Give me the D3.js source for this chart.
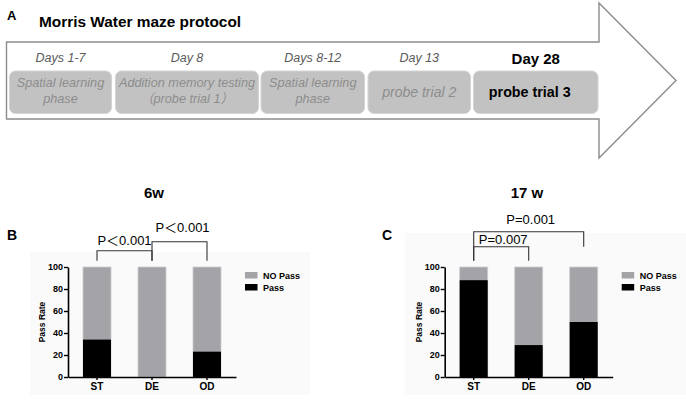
<!DOCTYPE html>
<html>
<head>
<meta charset="utf-8">
<script src="https://cdn.jsdelivr.net/npm/d3@7/dist/d3.min.js"></script>
<style>
  body { margin: 0; background: #fff; }
  svg { display: block; font-family: "Liberation Sans", Arial, sans-serif; }
</style>
</head>
<body>
<div id="main"></div>
<script>
// ---- data ----
const groups = ["ST", "DE", "OD"];
const pass6w = [34, 0, 23];
const pass17w = [88, 29, 50];
const yTicks = [0, 20, 40, 60, 80, 100];
const seriesNames = ["NO Pass", "Pass"];
const panelTitles = ["6w", "17 w"];
const panelLetters = ["B", "C"];
const brackets6w = [["ST", "DE", "P\uFF1C0.001"], ["DE", "OD", "P\uFF1C0.001"]];
const brackets17w = [["ST", "DE", "P=0.007"], ["ST", "OD", "P=0.001"]];
const phaseDays = ["Days 1-7", "Day 8", "Days 8-12", "Day 13", "Day 28"];
const phaseText = [
    ["Spatial learning", "phase"],
    ["Addition memory testing", "\uFF08probe trial 1\uFF09"],
    ["Spatial learning", "phase"],
    ["probe trial 2"],
    ["probe trial 3"]
];

const ctx = { w: 686, h: 404 };
const colGray = "#a3a3a8", colBlack = "#000";

const svg = d3.select("#main").append("svg")
    .attr("width", ctx.w).attr("height", ctx.h);

// ---- panel A : protocol arrow ----
function drawProtocol() {
    const g = svg.append("g");
    const body = { x0: 6.5, x1: 599, y0: 42, y1: 119 }, head = { top: 3, bottom: 158, tip: 676 };
    const pts = [[body.x0, body.y0], [body.x1, body.y0], [body.x1, head.top],
        [head.tip, (head.top + head.bottom) / 2], [body.x1, head.bottom],
        [body.x1, body.y1], [body.x0, body.y1]];
    g.append("path")
        .attr("d", d3.line()(pts) + "Z")
        .attr("fill", "#fff").attr("stroke", "#8c8c8c").attr("stroke-width", 1.4);

    g.append("text").attr("x", 7).attr("y", 20)
        .style("font-weight", "bold").style("font-size", "13px").text("A");
    g.append("text").attr("x", 39).attr("y", 27)
        .style("font-weight", "bold").style("font-size", "15.4px").text("Morris Water maze protocol");

    // box extents along the arrow
    const boxX = [[9.5, 111.5], [115.5, 258.5], [261, 364.5], [368, 470.5], [473.5, 598]];
    phaseDays.forEach((day, i) => {
        const last = i === phaseDays.length - 1;
        const [a, b] = boxX[i];
        const cx = (a + b) / 2;
        g.append("rect")
            .attr("x", a).attr("y", 71).attr("width", b - a).attr("height", 42.5)
            .attr("rx", 6).attr("fill", "#c2c2c2").attr("stroke", "#d4d4d4").attr("stroke-width", 1);
        g.append("text").attr("x", cx).attr("y", last ? 64 : 62)
            .attr("text-anchor", "middle")
            .style("font-size", last ? "15px" : "12.5px")
            .style("font-weight", last ? "bold" : "normal")
            .style("font-style", last ? "normal" : "italic")
            .attr("fill", last ? "#000" : "#5a5a5a")
            .text(day);
        const lines = phaseText[i];
        lines.forEach((t, j) => {
            const y = lines.length === 1 ? 96.5 : 87 + j * 16;
            g.append("text").attr("x", cx + (last ? -6 : 0)).attr("y", y)
                .attr("text-anchor", "middle")
                .style("font-family", "'Liberation Sans', 'Noto Sans CJK SC', sans-serif")
                .style("font-size", last ? "14.3px" : (lines.length === 1 ? "14px" : "12.7px"))
                .style("font-weight", last ? "bold" : "normal")
                .style("font-style", last ? "normal" : "italic")
                .attr("fill", last ? "#000" : "#8d8d8d")
                .text(t);
        });
    });
}

// ---- panels B and C : stacked bars ----
function drawPanel(opt) {
    const g = svg.append("g");
    const x0 = opt.axisX;

    g.append("rect").attr("x", opt.bg[0]).attr("y", opt.bg[1])
        .attr("width", opt.bg[2]).attr("height", opt.bg[3]).attr("fill", "#fafafa");

    const xScale = d3.scaleBand().domain(groups)
        .range([x0, x0 + 168]).paddingInner(27 / 55).paddingOuter(15 / 55);
    const yScale = d3.scaleLinear().domain([0, 100]).range([377, 267]);

    // NO Pass (remainder) then Pass
    g.selectAll(".nopass").data(groups).enter().append("rect")
        .attr("x", d => xScale(d)).attr("width", xScale.bandwidth())
        .attr("y", yScale(100)).attr("height", yScale(0) - yScale(100))
        .attr("fill", colGray).attr("stroke", "#cdcdcf").attr("stroke-width", 0.8);
    g.selectAll(".pass").data(opt.pass).enter().append("rect")
        .attr("x", (d, i) => xScale(groups[i])).attr("width", xScale.bandwidth())
        .attr("y", d => yScale(d)).attr("height", d => yScale(0) - yScale(d))
        .attr("fill", colBlack);

    const yAxis = g.append("g").attr("transform", `translate(${x0},0)`)
        .call(d3.axisLeft(yScale).tickValues(yTicks).tickSize(4).tickSizeOuter(0));
    const xAxis = g.append("g").attr("transform", `translate(0,${yScale(0)})`)
        .call(d3.axisBottom(xScale).tickSize(3).tickSizeOuter(0));
    [yAxis, xAxis].forEach(a => {
        a.select(".domain").attr("stroke-width", 1.6);
        a.selectAll(".tick line").attr("stroke-width", 1.4);
        a.selectAll("text").style("font-family", "'Liberation Sans', Arial, sans-serif")
            .style("font-weight", "bold").attr("fill", "#000");
    });
    yAxis.selectAll("text").style("font-size", "9px").attr("x", -5);
    xAxis.selectAll("text").style("font-size", "10px").attr("y", 6);

    g.append("text")
        .attr("transform", `translate(${x0 - 23},${(yScale(0) + yScale(100)) / 2}) rotate(-90)`)
        .attr("text-anchor", "middle")
        .style("font-weight", "bold").style("font-size", "8.5px").text("Pass Rate");

    // legend
    const lx = x0 + 177;
    seriesNames.forEach((s, i) => {
        g.append("rect").attr("x", lx).attr("y", 272 + i * 12).attr("width", 12.5).attr("height", 6.5)
            .attr("fill", i === 0 ? colGray : colBlack);
        g.append("text").attr("x", lx + 18).attr("y", 278.5 + i * 12)
            .style("font-weight", "bold").style("font-size", "9px").text(s);
    });

    // titles
    g.append("text").attr("x", opt.titleX).attr("y", 198).attr("text-anchor", "middle")
        .style("font-weight", "bold").style("font-size", "15px").text(opt.title);
    g.append("text").attr("x", opt.letterX).attr("y", 240)
        .style("font-weight", "bold").style("font-size", "14px").text(opt.letter);

    // significance brackets
    opt.brackets.forEach((b, i) => {
        const L = opt.bracketLayout[i];
        const xa = xScale(b[0]) + xScale.bandwidth() / 2;
        const xb = xScale(b[1]) + xScale.bandwidth() / 2;
        g.append("path")
            .attr("d", `M${xa},${L.legA}V${L.top}H${xb}V${L.legB}`)
            .attr("fill", "none").attr("stroke", "#333").attr("stroke-width", 1.1);
        g.append("text").attr("x", (xa + xb) / 2 + L.dx).attr("y", L.top - L.gap)
            .attr("text-anchor", "middle")
            .style("font-family", "'Liberation Sans', 'Noto Sans CJK SC', sans-serif")
            .style("font-size", "13px").text(b[2]);
    });
}

drawProtocol();

drawPanel({
    axisX: 68, pass: pass6w, title: panelTitles[0], letter: panelLetters[0],
    titleX: 154, letterX: 7, bg: [30, 252, 280, 143],
    brackets: brackets6w,
    bracketLayout: [
        { top: 250.7, legA: 260.7, legB: 260.7, gap: 5.5, dx: 0 },
        { top: 241.7, legA: 260.7, legB: 260.7, gap: 10, dx: 3 }
    ]
});
drawPanel({
    axisX: 444.7, pass: pass17w, title: panelTitles[1], letter: panelLetters[1],
    titleX: 527, letterX: 382, bg: [405, 233, 281, 162],
    brackets: brackets17w,
    bracketLayout: [
        { top: 246.7, legA: 260.7, legB: 260.7, gap: 3.2, dx: 2 },
        { top: 231.7, legA: 260.7, legB: 246.7, gap: 7.5, dx: 2 }
    ]
});
</script>
</body>
</html>
